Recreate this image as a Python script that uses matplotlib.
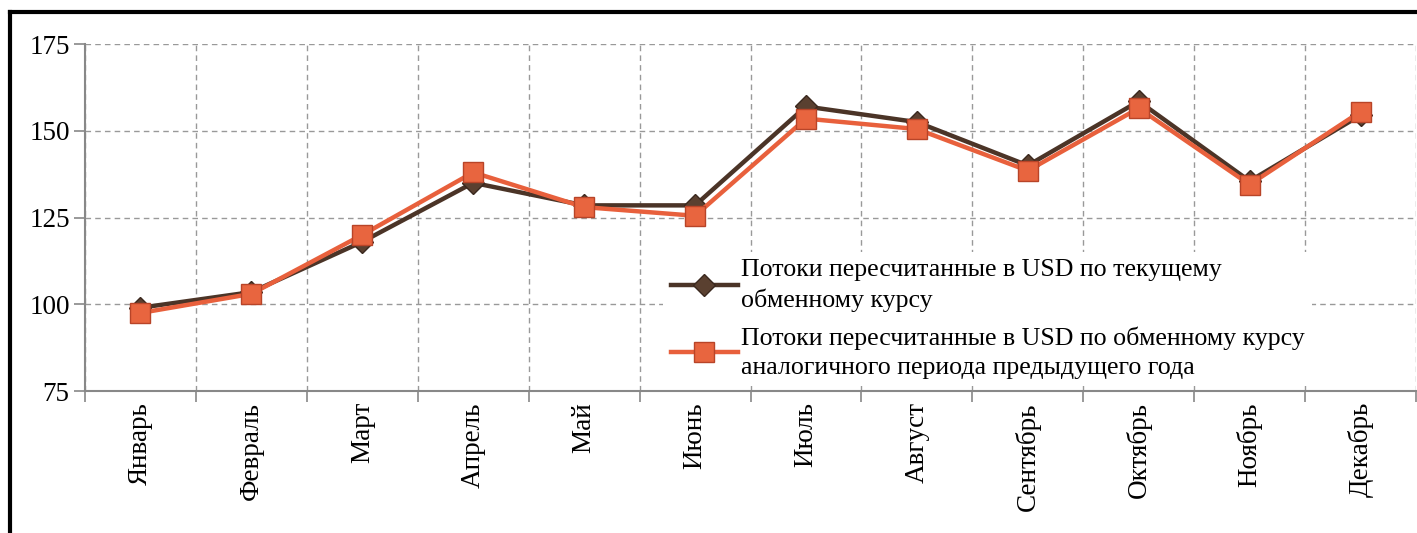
import numpy as np
import matplotlib.pyplot as plt
from matplotlib.lines import Line2D

months = ['Январь', 'Февраль', 'Март', 'Апрель', 'Май', 'Июнь',
          'Июль', 'Август', 'Сентябрь', 'Октябрь', 'Ноябрь', 'Декабрь']
current_rate = [99, 103.5, 118, 135, 128.5, 128.5, 157, 152.5, 140, 158.5, 135.5, 154.5]
prev_year_rate = [97.5, 103, 120, 138, 128, 125.5, 153.5, 150.5, 138.5, 156.5, 134.5, 155.5]
label_current = 'Потоки пересчитанные в USD по текущему\nобменному курсу'
label_prev = 'Потоки пересчитанные в USD по обменному курсу\nаналогичного периода предыдущего года'

plt.rcParams['font.family'] = ['Liberation Serif', 'DejaVu Serif']

fig = plt.figure(figsize=(14.17, 5.33), dpi=100)
ax = fig.add_axes([0.060, 0.2664, 0.9393, 0.651])

x = np.arange(len(months))
ax.plot(x, current_rate, color='#4b3427', lw=3.2, marker='D', ms=11,
        mfc='#5a4030', mec='#3a281e', mew=1, label=label_current, zorder=3)
ax.plot(x, prev_year_rate, color='#e8603c', lw=3.2, marker='s', ms=15,
        mfc='#e8653f', mec='#b84428', mew=1, label=label_prev, zorder=4)

ax.set_xlim(-0.5, len(months) - 0.5)
ax.set_ylim(75, 175)
ax.set_yticks([75, 100, 125, 150, 175])
ax.set_xticks(x)
ax.set_xticklabels(months, rotation=90, fontsize=19.5)
ax.set_xticks(np.arange(-0.5, len(months)), minor=True)
ax.tick_params(axis='x', which='major', length=0, pad=8)
ax.tick_params(axis='x', which='minor', length=8, color='#888888', width=1.2)
ax.tick_params(axis='y', length=8, color='#888888', width=1.2, labelsize=19.5, pad=3)

ax.grid(True, axis='y', which='major', ls=(0, (4, 3)), color='#999999', lw=1)
ax.grid(True, axis='x', which='minor', ls=(0, (4, 3)), color='#999999', lw=1)
ax.set_axisbelow(True)
for s in ['top', 'right']:
    ax.spines[s].set_visible(False)
for s in ['left', 'bottom']:
    ax.spines[s].set_color('#888888')
    ax.spines[s].set_linewidth(1.5)

leg = ax.legend(loc='upper left', bbox_to_anchor=(0.468, 0.528), bbox_transform=fig.transFigure,
                fontsize=18.6, frameon=True, facecolor='white', edgecolor='none', framealpha=1,
                handlelength=2.6, handletextpad=0.1, labelspacing=0.55, borderaxespad=0,
                borderpad=0.3)
for t in leg.get_texts():
    t.set_linespacing(1.4)

# outer black frame
fig.add_artist(Line2D([10 / 1417, 10 / 1417], [0, 1 - 12 / 533], color='black', lw=3,
                      transform=fig.transFigure))
fig.add_artist(Line2D([10 / 1417, 1], [1 - 12 / 533, 1 - 12 / 533], color='black', lw=3,
                      transform=fig.transFigure))

fig.savefig('out.png', dpi=100)
